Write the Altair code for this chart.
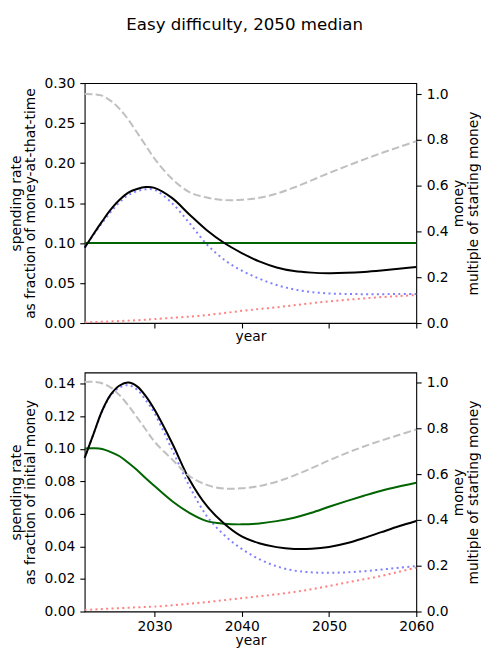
import altair as alt
import pandas as pd

years = [2022, 2023, 2024, 2025, 2026, 2027, 2028, 2029, 2030, 2032, 2034, 2036,
         2038, 2040, 2042, 2044, 2046, 2048, 2050, 2052, 2054, 2056, 2058, 2060]

# ---- top panel: spending rate as fraction of money-at-that-time ----
top_money = [1.0, 0.999, 0.993, 0.970, 0.935, 0.888, 0.832, 0.775, 0.718, 0.630, 0.572, 0.548,
             0.537, 0.538, 0.547, 0.565, 0.592, 0.623, 0.655, 0.685, 0.714, 0.742, 0.768, 0.794]
top_black = [0.094, 0.111, 0.127, 0.142, 0.154, 0.163, 0.1675, 0.170, 0.169, 0.1564, 0.1357, 0.116,
             0.100, 0.0875, 0.077, 0.0695, 0.065, 0.063, 0.0623, 0.0627, 0.0638, 0.0656, 0.0678, 0.0701]
top_blue = [0.094, 0.110, 0.125, 0.139, 0.151, 0.160, 0.1647, 0.1672, 0.1665, 0.150, 0.125, 0.0983,
            0.079, 0.0655, 0.0555, 0.0475, 0.042, 0.0387, 0.037, 0.0363, 0.0361, 0.0361, 0.0362, 0.0363]
top_red = [0.001, 0.0012, 0.0015, 0.002, 0.0025, 0.003, 0.0035, 0.0042, 0.005, 0.0065, 0.008, 0.010,
           0.0125, 0.0152, 0.0175, 0.0197, 0.0222, 0.0248, 0.0271, 0.029, 0.0308, 0.0324, 0.0337, 0.0349]
top_green_years = [2022, 2060]
top_green = [0.10, 0.10]

# ---- bottom panel: spending rate as fraction of initial money ----
bot_money = [1.003, 1.003, 0.997, 0.978, 0.945, 0.900, 0.848, 0.795, 0.742, 0.665, 0.592, 0.553,
             0.537, 0.538, 0.548, 0.567, 0.594, 0.626, 0.660, 0.692, 0.721, 0.747, 0.771, 0.795]
bot_black = [0.0945, 0.109, 0.1235, 0.1335, 0.139, 0.1408, 0.1385, 0.1325, 0.1242, 0.1038, 0.0812, 0.0649,
             0.054, 0.0462, 0.042, 0.0396, 0.0385, 0.0386, 0.0397, 0.042, 0.0452, 0.0488, 0.0524, 0.0557]
bot_blue = [0.0945, 0.109, 0.123, 0.133, 0.1378, 0.1392, 0.1365, 0.130, 0.122, 0.0997, 0.0771, 0.0587,
            0.047, 0.0385, 0.0322, 0.0278, 0.0252, 0.0241, 0.0238, 0.0241, 0.0248, 0.0258, 0.0269, 0.028]
bot_red = [0.001, 0.0012, 0.0015, 0.0018, 0.002, 0.0023, 0.0026, 0.0028, 0.003, 0.0038, 0.0048, 0.0058,
           0.007, 0.0082, 0.0094, 0.0106, 0.012, 0.0137, 0.0157, 0.0178, 0.0198, 0.0219, 0.0244, 0.027]
bot_green = [0.1003, 0.1004, 0.1000, 0.098, 0.0955, 0.0915, 0.087, 0.082, 0.0772, 0.068, 0.0607, 0.0556,
             0.054, 0.0536, 0.0542, 0.0556, 0.0577, 0.0607, 0.0644, 0.0679, 0.0712, 0.0743, 0.0769, 0.0792]

x_ticks = [2030, 2040, 2050, 2060]
money_ticks = [0.0, 0.2, 0.4, 0.6, 0.8, 1.0]
top_left_ticks = [0.0, 0.05, 0.10, 0.15, 0.20, 0.25, 0.30]
bot_left_ticks = [0.0, 0.02, 0.04, 0.06, 0.08, 0.10, 0.12, 0.14]

FONT = "DejaVu Sans"
FS = 13.9


def df(xs, ys):
    return pd.DataFrame({"year": xs, "value": ys})


def panel(money, black, blue, red, gyears, green, left_max, left_ticks, left_title,
          right_max, show_labels, h, xtitle_pad):
    xenc = alt.X("year:Q",
                 scale=alt.Scale(domain=[2022, 2060], nice=False, zero=False),
                 axis=alt.Axis(values=x_ticks, labels=show_labels, format="d", title="year",
                               labelFlush=False, grid=False, domain=False,
                               titlePadding=xtitle_pad))
    yl = alt.Y("value:Q",
               scale=alt.Scale(domain=[0, left_max], nice=False, zero=False),
               axis=alt.Axis(values=left_ticks, format=".2f", title=left_title, orient="left",
                             grid=False, domain=False, labelFlush=False, titlePadding=6.5))
    yr = alt.Y("value:Q",
               scale=alt.Scale(domain=[0, right_max], nice=False, zero=False),
               axis=alt.Axis(values=money_ticks, format=".1f",
                             title=["money", "multiple of starting money"], orient="right",
                             titleAngle=270, grid=False, domain=False, labelFlush=False,
                             titlePadding=3.4))

    def ln(data, color, y, **kw):
        return alt.Chart(data).mark_line(color=color, strokeWidth=2, interpolate="catmull-rom",
                                         **kw).encode(x=xenc, y=y)

    red_l = ln(df(years, red), "#ff8080", yl, strokeDash=[2, 3.4])
    blue_l = ln(df(years, blue), "#8080ff", yl, strokeDash=[2, 3.4])
    green_l = ln(df(gyears, green), "#006400", yl)
    black_l = ln(df(years, black), "#000000", yl)
    grey_l = ln(df(years, money), "#c0c0c0", yr, strokeDash=[7.7, 3.3])

    left = alt.layer(red_l, blue_l, green_l, black_l)
    return alt.layer(left, grey_l).resolve_scale(y="independent").properties(width=333, height=h)


top = panel(top_money, top_black, top_blue, top_red, top_green_years, top_green,
            0.30, top_left_ticks, ["spending rate", "as fraction of money-at-that-time"],
            1.048, False, 241, 1)
bottom = panel(bot_money, bot_black, bot_blue, bot_red, years, bot_green,
               0.147, bot_left_ticks, ["spending rate", "as fraction of initial money"],
               1.044, True, 240, 0)

chart = alt.vconcat(top, bottom, spacing=27.7).properties(
    title=alt.TitleParams("Easy difficulty, 2050 median", fontSize=16.7, font=FONT,
                          fontWeight="normal", anchor="middle", frame="bounds", offset=42.5,
                          color="black"),
    padding={"left": 0, "top": 7, "right": 0, "bottom": -1},
).configure_axis(
    labelFont=FONT, labelFontSize=FS, titleFont=FONT, titleFontSize=FS,
    titleFontWeight="normal", labelColor="black", titleColor="black",
    tickColor="black", tickSize=4.9, tickWidth=1.1, labelPadding=5,
    titleLineHeight=14.4,
).configure_axisX(labelPadding=3.5).configure_view(
    stroke="black", strokeWidth=1.1
)

chart.save("out.html", embed_options={"renderer": "svg", "actions": False})
